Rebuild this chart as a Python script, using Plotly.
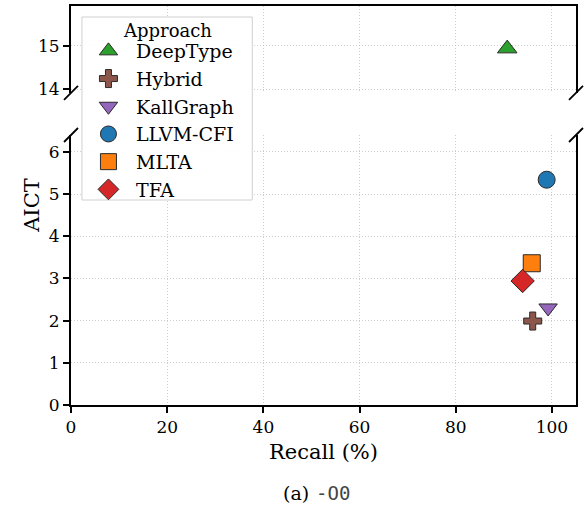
import plotly.graph_objects as go

# Recall vs. AICT per call-graph approach (broken y axis)
approaches = ["DeepType", "Hybrid", "KallGraph", "LLVM-CFI", "MLTA", "TFA"]
recall = [90.7, 96.0, 99.2, 98.9, 95.8, 93.9]
aict = [14.93, 1.99, 2.30, 5.34, 3.36, 2.94]

colors = ["#2ca02c", "#8c564b", "#9467bd", "#1f77b4", "#ff7f0e", "#d62728"]
symbols = ["triangle-up", "cross", "triangle-down", "circle", "square", "diamond"]
sizes = [17, 15, 16, 17, 17, 18]

x_ticks = [0, 20, 40, 60, 80, 100]
y_ticks_low = [0, 1, 2, 3, 4, 5, 6]
y_ticks_high = [14, 15]
break_at = 10  # values above this go to the upper panel

SERIF = "DejaVu Serif"

# Plot area in pixels (left, right, top, bottom) used for placing decorations
PL, PR, PT, PB = 71, 578, 6, 405


def px_x(p):
    return (p - PL) / (PR - PL)


def px_y(p):
    return (PB - p) / (PB - PT)


fig = go.Figure()
for name, xv, yv, c, s, sz in zip(approaches, recall, aict, colors, symbols, sizes):
    upper = yv > break_at
    fig.add_trace(go.Scatter(
        x=[xv], y=[yv], mode="markers", name=name,
        xaxis="x2" if upper else "x", yaxis="y2" if upper else "y",
        marker=dict(symbol=s, size=sz, color=c,
                    line=dict(color="#2a2a2a", width=1)),
    ))

axis_common = dict(
    showline=True, linecolor="black", linewidth=1.8,
    showgrid=True, gridcolor="#cfcfcf", griddash="1px,2px", gridwidth=1,
    zeroline=False,
    tickfont=dict(family=SERIF, size=17, color="black"),
)

fig.update_layout(
    width=584, height=508,
    margin=dict(l=PL, r=584 - PR, t=PT, b=508 - PB),
    plot_bgcolor="white", paper_bgcolor="white",
    showlegend=True,
    xaxis=dict(
        **axis_common, domain=[0, 1], range=[0, 105], anchor="y",
        tickvals=x_ticks, ticks="outside", ticklen=6, tickwidth=1.5,
        tickcolor="black",
        title=dict(text="Recall (%)", standoff=8,
                   font=dict(family=SERIF, size=21, color="black")),
    ),
    xaxis2=dict(
        **axis_common, domain=[0, 1], range=[0, 105], anchor="y2",
        matches="x", side="top", tickvals=x_ticks, ticks="",
        showticklabels=False,
    ),
    yaxis=dict(
        **axis_common, domain=[0, 0.6767], range=[0, 6.4], anchor="x",
        mirror=True, tickvals=y_ticks_low, ticks="outside", ticklen=6,
        tickwidth=1.5, tickcolor="black",
    ),
    yaxis2=dict(
        **axis_common, domain=[0.782, 1], range=[13.91, 15.91], anchor="x2",
        mirror=True, tickvals=y_ticks_high, ticks="outside", ticklen=6,
        tickwidth=1.5, tickcolor="black",
    ),
    legend=dict(
        x=px_x(81), y=px_y(32), xanchor="left", yanchor="top",
        bgcolor="rgba(0,0,0,0)", borderwidth=0,
        font=dict(family=SERIF, size=19, color="black"),
        itemsizing="trace", itemwidth=45,
    ),
)

# Legend frame and its heading
shapes = [dict(
    type="rect", xref="paper", yref="paper", layer="above",
    x0=px_x(82), x1=px_x(253), y0=px_y(200), y1=px_y(17),
    fillcolor="rgba(255,255,255,0.9)", line=dict(color="#d0d0d0", width=1),
)]
fig.add_annotation(
    text="Approach", xref="paper", yref="paper", x=px_x(167.5), y=px_y(30),
    xanchor="center", yanchor="middle", showarrow=False,
    font=dict(family=SERIF, size=18, color="black"),
)

# Diagonal break marks at the four cut corners
for xa in (0, 1):
    for ya in (0.782, 0.6767):
        shapes.append(dict(
            type="line", xref="paper", yref="paper",
            xsizemode="pixel", ysizemode="pixel",
            xanchor=xa, yanchor=ya,
            x0=-7, x1=7, y0=-7, y1=7,
            line=dict(color="black", width=1.8),
        ))
fig.update_layout(shapes=shapes)

fig.add_annotation(
    text="AICT", xref="paper", yref="paper", x=-0.1055, y=0.501,
    textangle=-90, showarrow=False,
    font=dict(family=SERIF, size=21, color="black"),
)
# Sub-figure caption
fig.add_annotation(
    text="(a)", xref="paper", yref="paper", x=px_x(311), y=px_y(493),
    xanchor="right", yanchor="middle", showarrow=False, borderpad=0,
    font=dict(family=SERIF, size=19, color="black"),
)
fig.add_annotation(
    text="-O0", xref="paper", yref="paper", x=px_x(316), y=px_y(493),
    xanchor="left", yanchor="middle", showarrow=False, borderpad=0,
    font=dict(family="DejaVu Sans Mono", size=19, color="#444444"),
)

fig.write_html("out.html")
